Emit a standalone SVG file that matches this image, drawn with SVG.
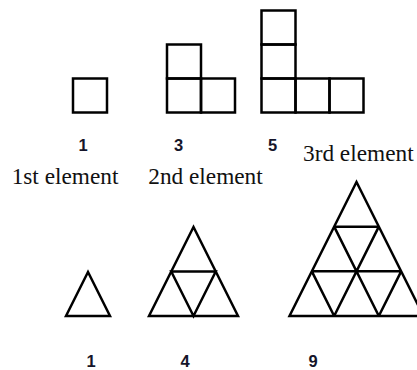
<svg xmlns="http://www.w3.org/2000/svg" width="417" height="370" viewBox="0 0 417 370">
<style>
.sq{fill:none;stroke:#000;stroke-width:2.5}
.tri{fill:none;stroke:#000;stroke-width:2.5;stroke-linejoin:miter}
.num{font-family:"Liberation Sans",Arial,sans-serif;font-weight:bold;font-size:16.5px;fill:#15152a;text-anchor:middle}
.lbl{font-family:"Liberation Serif","Times New Roman",serif;font-size:23.3px;fill:#111;text-anchor:middle}
</style>
<rect width="417" height="370" fill="#fff"/>
<g id="squares1">
<rect class="sq" x="73" y="78.5" width="34" height="34"/>
</g>
<g id="squares3">
<rect class="sq" x="167" y="44.5" width="34" height="34"/>
<rect class="sq" x="167" y="78.5" width="34" height="34"/>
<rect class="sq" x="201" y="78.5" width="34" height="34"/>
</g>
<g id="squares5">
<rect class="sq" x="261.5" y="10.5" width="34" height="34"/>
<rect class="sq" x="261.5" y="44.5" width="34" height="34"/>
<rect class="sq" x="261.5" y="78.5" width="34" height="34"/>
<rect class="sq" x="295.5" y="78.5" width="34" height="34"/>
<rect class="sq" x="329.5" y="78.5" width="34" height="34"/>
</g>
<g id="labels-top">
<text class="num" x="83" y="151">1</text>
<text class="num" x="178.5" y="151">3</text>
<text class="num" x="272.5" y="151">5</text>
<text class="lbl" x="65" y="184">1st element</text>
<text class="lbl" x="205.5" y="184">2nd element</text>
<text class="lbl" x="358.3" y="160.5">3rd element</text>
</g>
<g id="triangle1">
<polygon class="tri" points="88,272 66,316 110,316"/>
</g>
<g id="triangle4">
<polygon class="tri" points="193.5,227 149,316 238,316"/>
<path class="tri" d="M171.25,271.5 H215.75 L193.5,316 Z"/>
</g>
<g id="triangle9">
<polygon class="tri" points="356.5,182 289.5,316 423.5,316"/>
<path class="tri" d="M334.17,226.67 H378.83 M311.83,271.33 H401.17 M378.83,226.67 L334.17,316 M401.17,271.33 L378.83,316 M334.17,226.67 L378.83,316 M311.83,271.33 L334.17,316"/>
</g>
<g id="labels-bottom">
<text class="num" x="91" y="366.5">1</text>
<text class="num" x="185" y="366.5">4</text>
<text class="num" x="313" y="366.5">9</text>
</g>
</svg>
